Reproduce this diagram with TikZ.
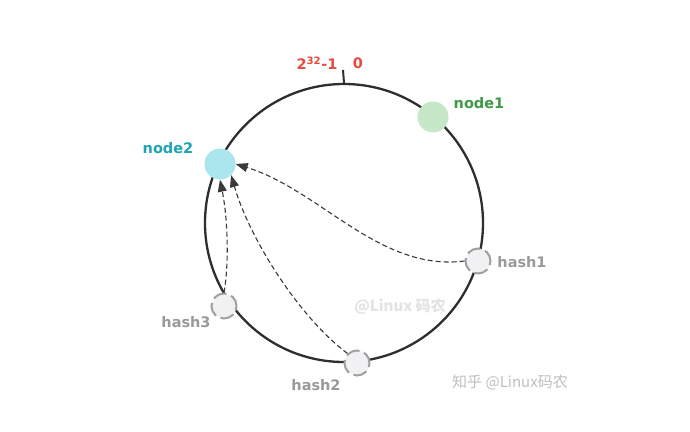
\documentclass[tikz,border=0pt]{standalone}
\usepackage{fontspec}
\setmainfont{DejaVu Sans}
\newfontfamily\cjkfont{Noto Sans CJK SC}
\usetikzlibrary{arrows.meta}
\definecolor{ringc}{HTML}{2E2E2E}
\definecolor{nodeAfill}{HTML}{C6E8C9}
\definecolor{nodeAtext}{HTML}{3E9A44}
\definecolor{nodeBfill}{HTML}{ABE6EE}
\definecolor{nodeBtext}{HTML}{1FA3B5}
\definecolor{redtxt}{HTML}{E84A3F}
\definecolor{hashfill}{HTML}{F1F1F3}
\definecolor{hashline}{HTML}{A0A0A0}
\definecolor{hashtxt}{HTML}{9A9A9A}
\definecolor{arrowc}{HTML}{3A3A3A}
\begin{document}
\begin{tikzpicture}[x=1pt,y=-1pt,
  server/.style={circle,minimum size=31pt,inner sep=0pt},
  hashpt/.style={circle,minimum size=25pt,inner sep=0pt,fill=hashfill,draw=hashline,line width=2pt,dash pattern=on 14pt off 5pt,dash phase=2pt},
  lbl/.style={font=\bfseries\fontsize{14.5}{16}\selectfont,inner sep=0pt},
  link/.style={draw=arrowc,line width=1.1pt,dash pattern=on 5pt off 3pt,-{Triangle[length=12pt,width=9pt]}}]
\useasboundingbox (0,0) rectangle (690,431);
\fill[white] (0,0) rectangle (690,431);
% ring
\node[circle,draw=ringc,line width=2.3pt,minimum size=278pt,inner sep=0pt] (ring) at (344,223) {};
\coordinate (ticktop) at (343,70);
\draw[ringc,line width=2pt] (ring.north) -- (ticktop);
\node[lbl,text=redtxt] (maxv) at (317,63) {2\textsuperscript{32}-1};
\node[lbl,text=redtxt] (zero) at (358,63) {0};
% servers
\node[server,fill=nodeAfill] (n1) at (433,117) {};
\node[server,fill=nodeBfill] (n2) at (220,164) {};
\node[lbl,text=nodeAtext] (n1l) at (479,103) {node1};
\node[lbl,text=nodeBtext] (n2l) at (168,148) {node2};
% hashes
\node[hashpt] (h1) at (478,261) {};
\node[hashpt] (h2) at (357,363) {};
\node[hashpt] (h3) at (224,306) {};
\node[lbl,text=hashtxt] (h1l) at (522,262) {hash1};
\node[lbl,text=hashtxt] (h2l) at (316,385) {hash2};
\node[lbl,text=hashtxt] (h3l) at (186,322) {hash3};
% links
\draw[link] (h1.west) .. controls (380,272) and (320,190) .. (n2.east);
\draw[link] (h2.north west) .. controls (300,318) and (250,240) .. (n2.south east);
\draw[link] (h3.north) .. controls (229,265) and (228,220) .. (n2.south);
% watermarks
\node[font=\cjkfont\bfseries\fontsize{15}{17}\selectfont,text=black!11,inner sep=0pt] (wm1) at (400,307) {@Linux 码农};
\node[font=\cjkfont\fontsize{15}{17}\selectfont,text=black!25,inner sep=0pt,anchor=west] (wm2) at (452,382) {知乎 @Linux码农};
\end{tikzpicture}
\end{document}
